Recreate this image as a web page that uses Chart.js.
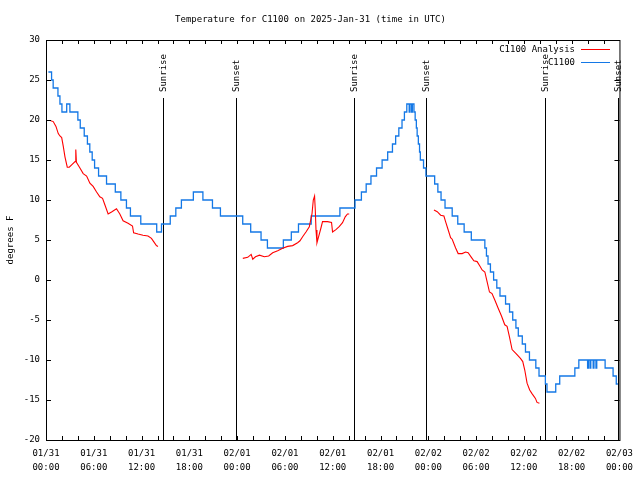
<!DOCTYPE html>
<html>
<head>
<meta charset="utf-8">
<script src="https://cdn.jsdelivr.net/npm/chart.js@4/dist/chart.umd.min.js"></script>
<style>
  html, body { margin: 0; padding: 0; background: #fff; }
  #wrap { width: 640px; height: 480px; }
</style>
</head>
<body>
<div id="wrap"><canvas id="c" width="640" height="480"></canvas></div>
<script>
// Hours are counted from 2025-01-31 00:00 UTC (x axis runs 0..72).
const TITLE = 'Temperature for C1100 on 2025-Jan-31 (time in UTC)';
const Y_LABEL = 'degrees F';
const FONT = '"DejaVu Sans Mono", "Liberation Mono", monospace';

const xTickLabels = [
  ['01/31', '00:00'], ['01/31', '06:00'], ['01/31', '12:00'], ['01/31', '18:00'],
  ['02/01', '00:00'], ['02/01', '06:00'], ['02/01', '12:00'], ['02/01', '18:00'],
  ['02/02', '00:00'], ['02/02', '06:00'], ['02/02', '12:00'], ['02/02', '18:00'],
  ['02/03', '00:00'],
];

// C1100 observations (whole degrees, step changes)
const obsHours = [
  0.3, 0.7, 0.9, 1.5, 1.75, 2.0, 2.6, 3.0, 4.0, 4.3, 4.8, 5.2, 5.5, 5.8, 6.1, 6.6, 7.6, 8.7, 9.4, 10.1,
  10.6, 11.9, 13.9, 14.5, 15.6, 16.3, 17.0, 18.5, 19.7, 20.9, 21.9, 24.7, 25.7, 27.0, 27.8, 29.8, 30.8, 31.7, 33.3, 36.9,
  38.8, 39.6, 40.2, 40.8, 41.5, 42.2, 42.9, 43.5, 43.9, 44.3, 44.7, 45.0, 45.3, 45.6, 45.7, 45.9, 46.0, 46.2, 46.35, 46.5,
  46.6, 46.75, 46.9, 47.0, 47.4, 47.7, 48.8, 49.2, 49.6, 50.1, 51.0, 51.7, 52.5, 53.4, 55.1, 55.3, 55.5, 55.8, 56.2, 56.6,
  57.0, 57.7, 58.2, 58.6, 59.0, 59.3, 59.8, 60.2, 60.7, 61.5, 61.9, 62.7, 62.9, 64.0, 64.5, 66.4, 66.9, 68.0, 68.1, 68.3,
  68.4, 68.7, 68.8, 69.05, 69.15, 70.2, 71.2, 71.6, 71.8,
];
const obsTemps = [
  26, 25, 24, 23, 22, 21, 22, 21, 20, 19, 18, 17, 16, 15, 14, 13, 12, 11, 10, 9,
  8, 7, 6, 7, 8, 9, 10, 11, 10, 9, 8, 7, 6, 5, 4, 5, 6, 7, 8, 9,
  10, 11, 12, 13, 14, 15, 16, 17, 18, 19, 20, 21, 22, 21, 22, 21, 22, 21, 20, 19,
  18, 17, 16, 15, 14, 13, 12, 11, 10, 9, 8, 7, 6, 5, 4, 3, 2, 1, 0, -1,
  -2, -3, -4, -5, -6, -7, -8, -9, -10, -11, -12, -13, -14, -13, -12, -11, -10, -11, -10, -11,
  -10, -11, -10, -11, -10, -11, -12, -13, -13,
];

// C1100 Analysis (null = no analysis, gap in the line)
const anaHours = [
  0.59, 0.91, 1.25, 1.54, 1.75, 1.97, 2.17, 2.38, 2.67, 2.92, 3.22, 3.65, 3.74, 3.82, 4.26, 4.67, 5.1, 5.51, 5.92, 6.35,
  6.76, 7.1, 7.39, 7.8, 8.23, 8.85, 9.27, 9.68, 10.3, 10.86, 11.0, 11.56, 12.18, 12.81, 13.24, 13.52, 13.86, 14.06,
  19.0,
  24.71, 25.33, 25.76, 25.96, 26.3, 26.8, 27.42, 27.96, 28.46, 29.09, 29.71, 30.34, 30.97, 31.59, 31.89, 32.22, 32.64, 33.06, 33.4, 33.56,
  33.72, 33.81, 33.9, 34.02, 34.22, 34.52, 34.72, 35.35, 35.85, 35.98, 36.4, 36.81, 37.23, 37.57, 37.85, 38.07,
  43.0,
  48.71, 49.12, 49.55, 49.96, 50.17, 50.5, 50.8, 51.0, 51.43, 51.75, 52.25, 52.68, 53.0, 53.43, 53.72, 54.13, 54.47, 54.76, 55.1, 55.38,
  55.68, 56.0, 56.35, 56.76, 57.19, 57.6, 57.89, 58.19, 58.52, 59.02, 59.57, 59.86, 60.11, 60.4, 60.73, 61.02, 61.45, 61.65, 61.95,
];
const anaTemps = [
  19.9, 19.8, 19.2, 18.3, 18.0, 17.8, 16.7, 15.4, 14.1, 14.1, 14.4, 14.8, 16.3, 14.7, 14.0, 13.3, 13.0, 12.1, 11.7, 11.0,
  10.4, 10.2, 9.4, 8.25, 8.5, 8.9, 8.25, 7.4, 7.1, 6.75, 5.9, 5.75, 5.6, 5.5, 5.2, 4.8, 4.3, 4.2,
  null,
  2.7, 2.83, 3.2, 2.6, 2.9, 3.1, 2.9, 3.0, 3.4, 3.66, 3.96, 4.2, 4.3, 4.66, 4.9, 5.4, 6.0, 6.66, 8.3, 10.0,
  10.5, 8.75, 6.25, 4.66, 5.4, 6.5, 7.3, 7.3, 7.2, 6.0, 6.3, 6.66, 7.16, 7.9, 8.25, 8.25,
  null,
  8.75, 8.54, 8.1, 8.0, 7.3, 6.25, 5.3, 5.1, 4.0, 3.3, 3.3, 3.5, 3.4, 2.8, 2.4, 2.3, 1.75, 1.25, 1.0, -0.2,
  -1.5, -1.7, -2.5, -3.5, -4.5, -5.6, -5.8, -7.1, -8.7, -9.2, -9.8, -10.2, -11.25, -12.9, -13.75, -14.2, -14.8, -15.3, -15.4,
];

const eventHours = [14.69, 23.88, 38.73, 47.75, 62.7, 71.79];
const eventNames = ['Sunrise', 'Sunset', 'Sunrise', 'Sunset', 'Sunrise', 'Sunset'];

const RED = '#ff0000';
const BLUE = '#1478e6';

const toPoints = (xs, ys) => xs.map((x, i) => ({ x, y: ys[i] }));

// gnuplot-like frame, inward ticks, sun events and the in-plot key
const decor = {
  id: 'decor',
  beforeDatasetsDraw(chart) {
    const { ctx, chartArea: a, scales: { x } } = chart;
    ctx.save();
    ctx.strokeStyle = '#000';
    ctx.lineWidth = 1;
    ctx.fillStyle = '#000';
    ctx.font = '9px ' + FONT;
    eventHours.forEach((h, i) => {
      const px = Math.round(x.getPixelForValue(h)) + 0.5;
      ctx.beginPath();
      ctx.moveTo(px, a.top + 58);
      ctx.lineTo(px, a.bottom);
      ctx.stroke();
      ctx.save();
      ctx.translate(px, a.top + 52);
      ctx.rotate(-Math.PI / 2);
      ctx.textAlign = 'left';
      ctx.textBaseline = 'middle';
      ctx.fillText(eventNames[i], 0, 0);
      ctx.restore();
    });
    ctx.restore();
  },
  afterDatasetsDraw(chart) {
    const { ctx, chartArea: a, scales: { x, y } } = chart;
    ctx.save();
    ctx.strokeStyle = '#000';
    ctx.lineWidth = 1;
    ctx.strokeRect(a.left + 0.5, a.top + 0.5, a.right - a.left, a.bottom - a.top);
    ctx.beginPath();
    for (let h = 2; h < 72; h += 2) {
      const px = Math.round(x.getPixelForValue(h)) + 0.5;
      ctx.moveTo(px, a.bottom); ctx.lineTo(px, a.bottom - 4);
      ctx.moveTo(px, a.top); ctx.lineTo(px, a.top + 4);
    }
    for (let v = -15; v < 30; v += 5) {
      const py = Math.round(y.getPixelForValue(v)) + 0.5;
      ctx.moveTo(a.left, py); ctx.lineTo(a.left + 5, py);
      ctx.moveTo(a.right, py); ctx.lineTo(a.right - 5, py);
    }
    ctx.stroke();

    // key, top right
    ctx.font = '9px ' + FONT;
    ctx.textAlign = 'right';
    ctx.textBaseline = 'middle';
    ctx.fillStyle = '#000';
    chart.data.datasets.forEach((ds, i) => {
      const ky = a.top + 9.5 + i * 13;
      ctx.fillText(ds.label, 575, ky);
      ctx.strokeStyle = ds.borderColor;
      ctx.beginPath();
      ctx.moveTo(581, ky);
      ctx.lineTo(610, ky);
      ctx.stroke();
    });
    ctx.restore();
  },
};

new Chart(document.getElementById('c'), {
  type: 'line',
  data: {
    datasets: [
      { label: 'C1100 Analysis', data: toPoints(anaHours, anaTemps), borderColor: RED, borderWidth: 1.1, pointRadius: 0, spanGaps: false },
      { label: 'C1100', data: toPoints(obsHours, obsTemps), borderColor: BLUE, borderWidth: 1.3, pointRadius: 0, stepped: true },
    ],
  },
  options: {
    responsive: false,
    animation: false,
    layout: { padding: { left: 0, right: 19, top: 0, bottom: 0 } },
    plugins: {
      legend: { display: false },
      tooltip: { enabled: false },
      title: {
        display: true,
        text: TITLE,
        color: '#000',
        font: { family: FONT, size: 9, weight: 'normal', lineHeight: 1.2 },
        padding: { top: 14, bottom: 15.2 },
      },
    },
    scales: {
      x: {
        type: 'linear',
        min: 0, max: 72,
        grid: { display: false, drawTicks: false },
        border: { display: false },
        ticks: {
          stepSize: 6, autoSkip: false, maxRotation: 0, padding: 7,
          color: '#000',
          font: { family: FONT, size: 9, lineHeight: '14px' },
          callback: (v) => xTickLabels[Math.round(v / 6)],
        },
        afterFit: (s) => { s.height = 40; },
      },
      y: {
        min: -20, max: 30,
        grid: { display: false, drawTicks: false },
        border: { display: false },
        ticks: { stepSize: 5, padding: 6, color: '#000', font: { family: FONT, size: 9 } },
        title: {
          display: true, text: Y_LABEL, color: '#000',
          font: { family: FONT, size: 9, lineHeight: 1.2 },
          padding: { top: 5, bottom: 0 },
        },
        afterFit: (s) => { s.width = 46; },
      },
    },
  },
  plugins: [decor],
});
</script>
</body>
</html>
